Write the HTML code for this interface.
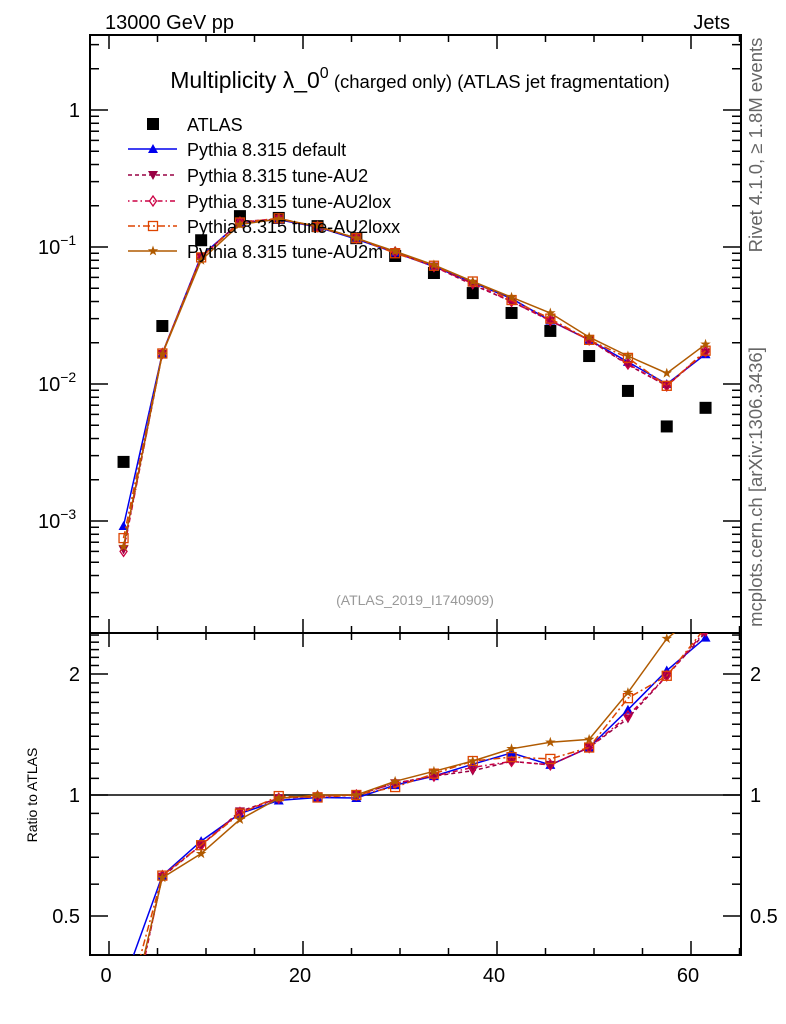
<!DOCTYPE html>
<html><head><meta charset="utf-8"><style>
body{margin:0;background:#fff}
svg{display:block;font-family:"Liberation Sans",sans-serif}
</style></head><body>
<svg id="c" width="786" height="1024" viewBox="0 0 786 1024">
<text x="105" y="29" font-size="20">13000 GeV pp</text>
<text x="730" y="29" font-size="20" text-anchor="end">Jets</text>
<text x="420" y="88" font-size="23" text-anchor="middle">Multiplicity λ_0<tspan dy="-10" font-size="16">0</tspan><tspan dy="10" font-size="18.5"> (charged only) (ATLAS jet fragmentation)</tspan></text>
<text x="415" y="605" font-size="14" fill="#999" text-anchor="middle">(ATLAS_2019_I1740909)</text>
<text transform="translate(762,145) rotate(-90)" font-size="18.5" fill="#666" text-anchor="middle">Rivet 4.1.0, ≥ 1.8M events</text>
<text transform="translate(762,487) rotate(-90)" font-size="18.5" fill="#666" text-anchor="middle">mcplots.cern.ch [arXiv:1306.3436]</text>
<text transform="translate(37,795) rotate(-90)" font-size="14" text-anchor="middle">Ratio to ATLAS</text>
<g id="main"></g><g id="ratio"></g><g id="legend"></g>
</svg>
<script>
const xCenters=[1.5,5.5,9.5,13.5,17.5,21.5,25.5,29.5,33.5,37.5,41.5,45.5,49.5,53.5,57.5,61.5];
const dataVals=[0.0027,0.0265,0.112,0.168,0.163,0.142,0.116,0.086,0.0646,0.0461,0.033,0.0244,0.016,0.0089,0.0049,0.0067];
const mcDefault=[0.00092,0.0167,0.086,0.151,0.158,0.140,0.114,0.091,0.072,0.055,0.042,0.029,0.021,0.0145,0.0100,0.0165];
const mcAU2=[0.00062,0.0166,0.084,0.153,0.160,0.141,0.116,0.092,0.072,0.053,0.040,0.029,0.021,0.0138,0.0097,0.0170];
const mcAU2lox=[0.00060,0.0167,0.084,0.152,0.160,0.141,0.116,0.092,0.072,0.054,0.040,0.029,0.021,0.0140,0.0097,0.0172];
const mcAU2loxx=[0.00075,0.0167,0.084,0.151,0.162,0.140,0.116,0.090,0.073,0.056,0.041,0.030,0.021,0.0155,0.0097,0.0175];
const mcAU2m=[0.00065,0.0165,0.080,0.146,0.160,0.142,0.116,0.093,0.074,0.056,0.043,0.033,0.022,0.016,0.0120,0.0195];
const xTicks=[0,20,40,60];
const yMainTicks=[1,0.1,0.01,0.001];
const yMainLabels=["1","10","10","10"];
const yMainExp=["","−1","−2","−3"];
const yRatioTicks=[0.5,1,2];
const seriesNames=["Pythia 8.315 default","Pythia 8.315 tune-AU2","Pythia 8.315 tune-AU2lox","Pythia 8.315 tune-AU2loxx","Pythia 8.315 tune-AU2m"];

const NS="http://www.w3.org/2000/svg";
const L=90,R=741,T1=35,B1=633,T2=633,B2=955;
const X=v=>109+v*9.7;
const YM=v=>110-137*Math.log10(v);
const YR=v=>795-121*Math.log2(v);
function el(tag,attrs,parent){const e=document.createElementNS(NS,tag);for(const k in attrs)e.setAttribute(k,attrs[k]);parent.appendChild(e);return e;}
const main=document.getElementById('main'),ratio=document.getElementById('ratio'),leg=document.getElementById('legend');

const defs=el('defs',{},document.getElementById('c'));
const c1=el('clipPath',{id:'c1'},defs);el('rect',{x:L,y:T1,width:R-L,height:B1-T1},c1);
const c2=el('clipPath',{id:'c2'},defs);el('rect',{x:L,y:T2,width:R-L,height:B2-T2},c2);

let f=el('rect',{x:L,y:T1,width:R-L,height:B1-T1,fill:'none',stroke:'#000','stroke-width':2},main);

f=el('rect',{x:L,y:T2,width:R-L,height:B2-T2,fill:'none',stroke:'#000','stroke-width':2},ratio);


for(let v=0;v<=65;v+=5){const x=X(v);const len=(v%20===0)?14:7;
 [[T1,1],[B1,-1],[T2,1],[B2,-1]].forEach(([y,d])=>{el('line',{x1:x,x2:x,y1:y,y2:y+d*len,stroke:'#000','stroke-width':1.5},main);});}
xTicks.forEach(v=>{const t=el('text',{x:X(v)-3,y:982,'font-size':20,'text-anchor':'middle'},ratio);t.textContent=v;
 });

for(let e=-4;e<=0;e++){for(let m=1;m<10;m++){const v=m*Math.pow(10,e);const y=YM(v);if(y<T1||y>B1)continue;
 const len=m===1?18:9;el('line',{x1:L,x2:L+len,y1:y,y2:y,stroke:'#000','stroke-width':1.5},main);el('line',{x1:R,x2:R-len,y1:y,y2:y,stroke:'#000','stroke-width':1.5},main);}}
yMainTicks.forEach((v,i)=>{const t=el('text',{x:i===0?80:38,y:YM(v)+7,'font-size':20,'text-anchor':i===0?'end':'start'},main);
 t.textContent=yMainLabels[i];if(yMainExp[i]){const s=el('tspan',{dy:-9,'font-size':14},t);s.textContent=yMainExp[i];}
 });

const rt=[0.4,0.5,0.6,0.7,0.8,0.9,1,1.1,1.2,1.3,1.4,1.5,1.6,1.7,1.8,1.9,2,2.1,2.2,2.3,2.4,2.5];
rt.forEach(v=>{const y=YR(v);if(y<T2||y>B2)return;const len=(v===0.5||v===1||v===2)?18:9;
 el('line',{x1:L,x2:L+len,y1:y,y2:y,stroke:'#000','stroke-width':1.5},ratio);el('line',{x1:R,x2:R-len,y1:y,y2:y,stroke:'#000','stroke-width':1.5},ratio);});
yRatioTicks.forEach(v=>{[[80,'end'],[750,'start']].forEach(([x,a])=>{const t=el('text',{x:x,y:YR(v)+7,'font-size':20,'text-anchor':a},ratio);t.textContent=v;
 });});
el('line',{x1:L,x2:R,y1:YR(1),y2:YR(1),stroke:'#000','stroke-width':1.5},ratio);

function marker(type,x,y,color,g){let m;
 if(type==='sq')m=el('rect',{x:x-6,y:y-6,width:12,height:12,fill:'#000'},g);
 else if(type==='tu')m=el('polygon',{points:`${x},${y-5} ${x-5},${y+4} ${x+5},${y+4}`,fill:color},g);
 else if(type==='td')m=el('polygon',{points:`${x},${y+5} ${x-5},${y-4} ${x+5},${y-4}`,fill:color},g);
 else if(type==='di')m=el('polygon',{points:`${x},${y-5} ${x-3.5},${y} ${x},${y+5} ${x+3.5},${y}`,fill:'none',stroke:color,'stroke-width':1.3},g);
 else if(type==='os')m=el('rect',{x:x-4.5,y:y-4.5,width:9,height:9,fill:'none',stroke:color,'stroke-width':1.3},g);
 else {let p=[];for(let i=0;i<10;i++){const r=i%2?2.2:5.5;const a=-Math.PI/2+i*Math.PI/5;p.push((x+r*Math.cos(a)).toFixed(1)+','+(y+r*Math.sin(a)).toFixed(1));}
  m=el('polygon',{points:p.join(' '),fill:color},g);}
 return m;}

const series=[
 {vals:mcDefault,color:'#0000ee',dash:'',m:'tu',name:'series-default'},
 {vals:mcAU2,color:'#990044',dash:'4,3',m:'td',name:'series-au2'},
 {vals:mcAU2lox,color:'#cc0044',dash:'1.5,3,5,3',m:'di',name:'series-au2lox'},
 {vals:mcAU2loxx,color:'#dd4400',dash:'7,3,2,3',m:'os',name:'series-au2loxx'},
 {vals:mcAU2m,color:'#b05a00',dash:'',m:'st',name:'series-au2m'}];

const dg=el('g',{},main);
dataVals.forEach((v,i)=>{const m=marker('sq',X(xCenters[i]),YM(v),'#000',dg);});

series.forEach(s=>{
 const g=el('g',{'clip-path':'url(#c1)'},main);
 const pts=s.vals.map((v,i)=>X(xCenters[i]).toFixed(1)+','+YM(v).toFixed(1)).join(' ');
 el('polyline',{points:pts,fill:'none',stroke:s.color,'stroke-width':1.5,'stroke-dasharray':s.dash},g);
 s.vals.forEach((v,i)=>{const m=marker(s.m,X(xCenters[i]),YM(v),s.color,g);});
 const g2=el('g',{'clip-path':'url(#c2)'},ratio);
 const rp=s.vals.map((v,i)=>X(xCenters[i]).toFixed(1)+','+YR(v/dataVals[i]).toFixed(1)).join(' ');
 el('polyline',{points:rp,fill:'none',stroke:s.color,'stroke-width':1.5,'stroke-dasharray':s.dash},g2);
 s.vals.forEach((v,i)=>{const m=marker(s.m,X(xCenters[i]),YR(v/dataVals[i]),s.color,g2);});
});

const ly=[124,149,175,201,226,251];
let e=el('g',{},leg);
marker('sq',153,ly[0],'#000',e);let t=el('text',{x:187,y:ly[0]+7,'font-size':18},e);t.textContent='ATLAS';
series.forEach((s,i)=>{const g=el('g',{},leg);
 el('line',{x1:128,x2:177,y1:ly[i+1],y2:ly[i+1],stroke:s.color,'stroke-width':1.5,'stroke-dasharray':s.dash},g);
 marker(s.m,153,ly[i+1],s.color,g);
 const tx=el('text',{x:187,y:ly[i+1]+7,'font-size':18},g);tx.textContent=seriesNames[i];});
</script>
</body></html>
